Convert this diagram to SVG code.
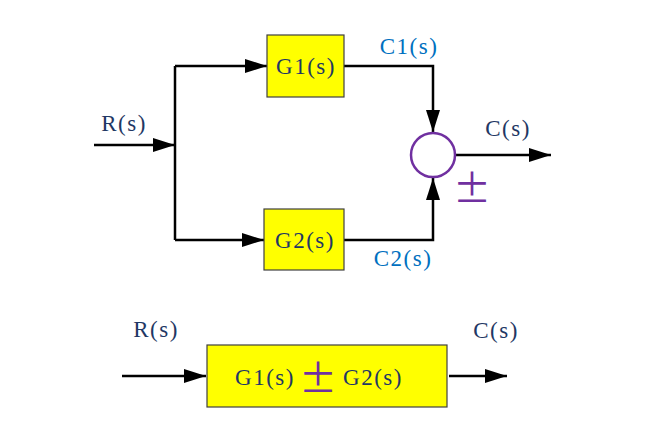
<svg xmlns="http://www.w3.org/2000/svg" width="659" height="435" viewBox="0 0 659 435">
<defs>
<marker id="ah" markerWidth="22" markerHeight="14" refX="22" refY="7" orient="auto" markerUnits="userSpaceOnUse">
<path d="M0,0 L22,7 L0,14 Z" fill="#000"/>
</marker>
</defs>
<style>
.ln{fill:none;stroke:#000;stroke-width:2.5}
.box{fill:#FFFF00;stroke:#404040;stroke-width:1.2}
.t{font-family:"Liberation Serif","Noto Sans CJK SC",serif;font-size:23px;letter-spacing:1.5px}
.dark{fill:#1F3864}
.blue{fill:#0070C0}
.pm{fill:#7030A0;font-family:"Noto Sans CJK SC","DejaVu Sans",sans-serif;font-size:38px}
</style>
<rect width="659" height="435" fill="#fff"/>
<g id="connectors">
<path class="ln" d="M94,145 H175" marker-end="url(#ah)"/>
<path class="ln" d="M175,66 V240"/>
<path class="ln" d="M175,66 H267" marker-end="url(#ah)"/>
<path class="ln" d="M175,240 H264" marker-end="url(#ah)"/>
<path class="ln" d="M344,66 H433 V132" marker-end="url(#ah)"/>
<path class="ln" d="M344,240 H433 V178" marker-end="url(#ah)"/>
<path class="ln" d="M456,155 H551" marker-end="url(#ah)"/>
<path class="ln" d="M122,376 H206" marker-end="url(#ah)"/>
<path class="ln" d="M449,376 H507" marker-end="url(#ah)"/>
</g>
<g id="G1">
<rect class="box" x="267" y="35" width="77" height="62"/>
<text class="t dark" x="306" y="74" text-anchor="middle">G1(s)</text>
</g>
<g id="G2">
<rect class="box" x="264" y="209" width="80" height="61"/>
<text class="t dark" x="305" y="248" text-anchor="middle">G2(s)</text>
</g>
<g id="sum">
<circle cx="433" cy="155" r="22" fill="#fff" stroke="#7030A0" stroke-width="2.5"/>
<text class="pm" x="472" y="202" text-anchor="middle">±</text>
</g>
<g id="labels">
<text class="t dark" x="124" y="131" text-anchor="middle">R(s)</text>
<text class="t blue" x="409" y="54" text-anchor="middle">C1(s)</text>
<text class="t blue" x="403" y="266" text-anchor="middle">C2(s)</text>
<text class="t dark" x="508" y="136" text-anchor="middle">C(s)</text>
<text class="t dark" x="156" y="337" text-anchor="middle">R(s)</text>
<text class="t dark" x="496" y="338" text-anchor="middle">C(s)</text>
</g>
<g id="Gsum">
<rect class="box" x="207" y="345" width="240" height="62"/>
<text class="t dark" x="265" y="385" text-anchor="middle">G1(s)</text>
<text class="pm" x="318" y="392" text-anchor="middle">±</text>
<text class="t dark" x="373" y="385" text-anchor="middle">G2(s)</text>
</g>
</svg>
